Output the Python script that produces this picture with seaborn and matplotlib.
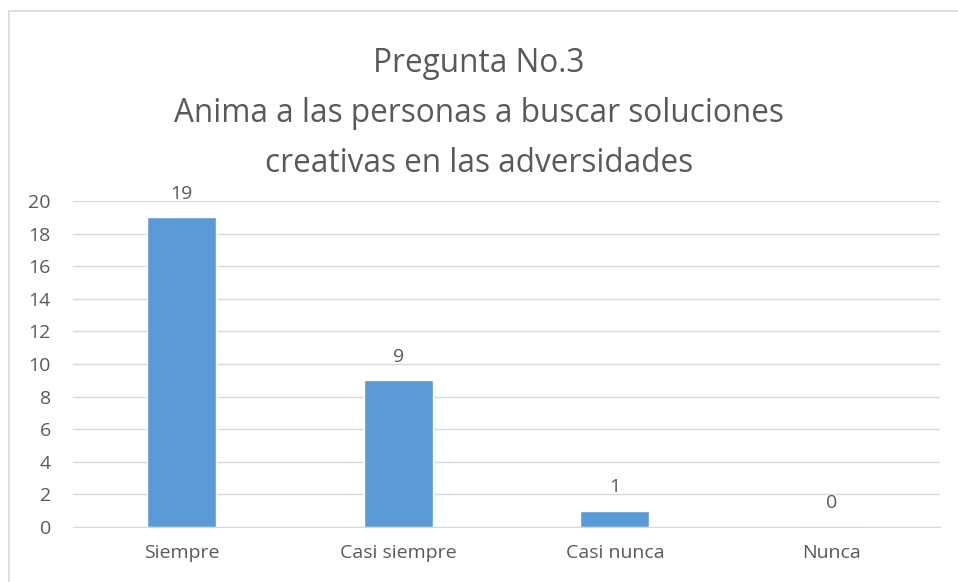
import pandas as pd
import matplotlib.pyplot as plt
import seaborn as sns
from matplotlib.patches import Rectangle

# Chart data
categorias = ['Siempre', 'Casi siempre', 'Casi nunca', 'Nunca']
respuestas = [19, 9, 1, 0]
yticks = [0, 2, 4, 6, 8, 10, 12, 14, 16, 18, 20]

data = pd.DataFrame({'Categoria': categorias, 'Respuestas': respuestas})

sns.set_style('white')
plt.rcParams['font.family'] = ['Open Sans', 'DejaVu Sans']

gris = '#595959'
fig = plt.figure(figsize=(9.58, 5.82), dpi=100)
ax = fig.add_axes([73 / 958, 1 - 527 / 582, (940 - 73) / 958, (527 - 201) / 582])

sns.barplot(data=data, x='Categoria', y='Respuestas', color='#5B9BD5',
            saturation=1, width=0.318, ax=ax)

ax.set_ylim(0, 20)
ax.set_yticks(yticks)
ax.yaxis.grid(True, color='#D9D9D9', linewidth=1)
ax.set_axisbelow(True)
for s in ['left', 'right', 'top']:
    ax.spines[s].set_visible(False)
ax.spines['bottom'].set_color('#D9D9D9')
ax.tick_params(axis='both', length=0, colors=gris, labelsize=14)
ax.tick_params(axis='y', pad=16)
ax.tick_params(axis='x', pad=12)
ax.set_xlabel('')
ax.set_ylabel('')

# value labels
for i, v in enumerate(respuestas):
    ax.annotate(str(v), (i, v), xytext=(0, 13.5), textcoords='offset points',
                ha='center', va='baseline', fontsize=14, color=gris)

fig.text(0.5, 1 - 114 / 582, 'Pregunta No.3\nAnima a las personas a buscar soluciones\ncreativas en las adversidades',
         ha='center', va='center', fontsize=22.7, color=gris, linespacing=1.68)

# chart border (extends past the right and bottom edges)
fig.patches.append(Rectangle((9 / 958, -0.1), 1.1, 1 - 11 / 582 + 0.1,
                             transform=fig.transFigure, fill=False,
                             edgecolor='#D9D9D9', linewidth=1.2))

plt.savefig('out.png', dpi=100)
